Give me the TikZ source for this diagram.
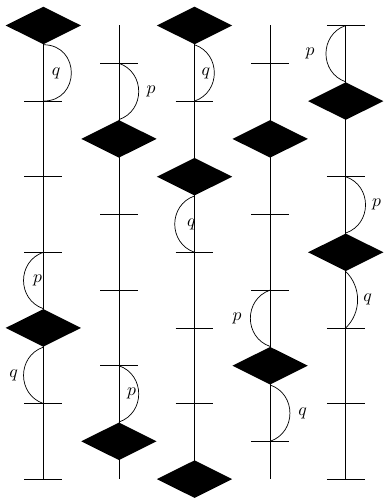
\documentclass[tikz,border=0pt]{standalone}
\usepackage{tikz}
\usetikzlibrary{shapes.geometric}

\begin{document}
\begin{tikzpicture}[
    x=1.5cm, y=1.5cm,
    gate/.style={diamond, fill=black, inner sep=0pt, minimum width=1.5cm, minimum height=0.75cm},
    arcright/.style={bend left=71, looseness=1.27},
    arcleft/.style={bend right=71, looseness=1.27},
    lbl/.style={pos=0.5, inner sep=0pt}
  ]
  \useasboundingbox (-0.573,0.337) rectangle (4.493,-6.263);

  % gates
  \node[gate] (ga0) at (0,0) {};
  \node[gate] (ga4) at (0,-4) {};
  \node[gate] (gb2) at (1,-1.5) {};
  \node[gate] (gb6) at (1,-5.5) {};
  \node[gate] (gc0) at (2,0) {};
  \node[gate] (gc2) at (2,-2) {};
  \node[gate] (gc6) at (2,-6) {};
  \node[gate] (gd2) at (3,-1.5) {};
  \node[gate] (gd5) at (3,-4.5) {};
  \node[gate] (ge1) at (4,-1) {};
  \node[gate] (ge3) at (4,-3) {};

  % tick points
  \coordinate (ta1) at (0,-1); \coordinate (ta2) at (0,-2); \coordinate (ta3) at (0,-3);
  \coordinate (ta5) at (0,-5); \coordinate (ta6) at (0,-6);
  \coordinate (btop) at (1,0); \coordinate (bbot) at (1,-6);
  \coordinate (tb1) at (1,-0.5); \coordinate (tb3) at (1,-2.5);
  \coordinate (tb4) at (1,-3.5); \coordinate (tb5) at (1,-4.5);
  \coordinate (tc1) at (2,-1); \coordinate (tc3) at (2,-3);
  \coordinate (tc4) at (2,-4); \coordinate (tc5) at (2,-5);
  \coordinate (dtop) at (3,0); \coordinate (dbot) at (3,-6);
  \coordinate (td1) at (3,-0.5); \coordinate (td3) at (3,-2.5);
  \coordinate (td4) at (3,-3.5); \coordinate (td6) at (3,-5.5);
  \coordinate (te0) at (4,0); \coordinate (te2) at (4,-2); \coordinate (te4) at (4,-4);
  \coordinate (te5) at (4,-5); \coordinate (te6) at (4,-6);

  % wires
  \draw (ga0.center) -- (ta6);
  \draw (btop) -- (bbot);
  \draw (gc0.center) -- (gc6.center);
  \draw (dtop) -- (dbot);
  \draw (te0) -- (te6);

  \foreach \t in {ta1,ta2,ta3,ta5,ta6,tb1,tb3,tb4,tb5,tc1,tc3,tc4,tc5,td1,td3,td4,td6,te0,te2,te4,te5,te6}
    \draw (\t) +(-0.25,0) -- +(0.25,0);

  % loops
  \draw (ga0.south) to[bend left=90, looseness=1.7] node[lbl, xshift=-8.6pt] {$q$} (ta1);
  \draw (ta3) to[arcleft] node[lbl, xshift=7.9pt] {$p$} (ga4.north);
  \draw (ga4.south) to[arcleft] node[lbl, xshift=-5.6pt] {$q$} (ta5);
  \draw (tb1) to[arcright] node[lbl, xshift=7pt] {$p$} (gb2.north);
  \draw (tb5) to[arcright] node[lbl, xshift=-4pt] {$p$} (gb6.north);
  \draw (gc0.south) to[arcright] node[lbl, xshift=-4.7pt] {$q$} (tc1);
  \draw (gc2.south) to[arcleft] node[lbl, xshift=9.4pt] {$q$} (tc3);
  \draw (td4) to[arcleft] node[lbl, xshift=-7.5pt] {$p$} (gd5.north);
  \draw (gd5.south) to[arcright] node[lbl, xshift=7.2pt] {$q$} (td6);
  \draw (te0) to[arcleft] node[lbl, xshift=-9pt] {$p$} (ge1.north);
  \draw (te2) to[arcright] node[lbl, xshift=6.2pt] {$p$} (ge3.north);
  \draw (ge3.south) to[bend left=46] node[lbl, xshift=5.6pt] {$q$} (te4);
\end{tikzpicture}
\end{document}
